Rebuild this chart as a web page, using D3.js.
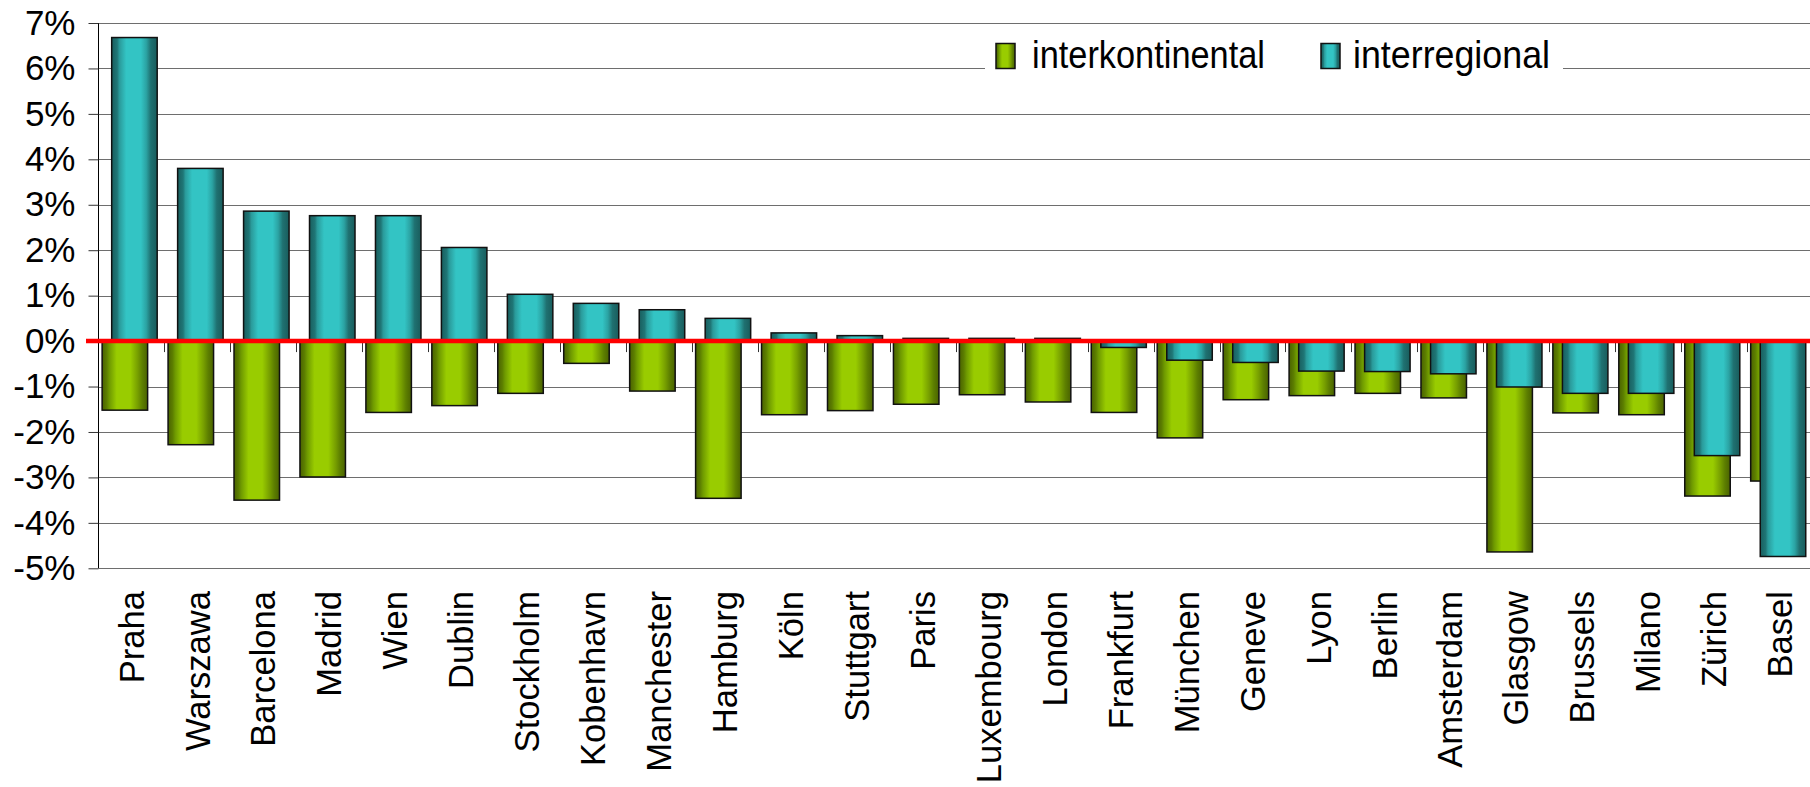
<!DOCTYPE html>
<html>
<head>
<meta charset="utf-8">
<script src="https://cdn.jsdelivr.net/npm/d3@7"></script>
<style>
  body { margin: 0; background: #fff; }
  text { font-family: "Liberation Sans", Arial, sans-serif; fill: #000; }
</style>
</head>
<body>
<div id="chart"></div>
<script>
var cities = ['Praha', 'Warszawa', 'Barcelona', 'Madrid', 'Wien', 'Dublin', 'Stockholm', 'Kobenhavn',
    'Manchester', 'Hamburg', 'Köln', 'Stuttgart', 'Paris', 'Luxembourg', 'London', 'Frankfurt',
    'München', 'Geneve', 'Lyon', 'Berlin', 'Amsterdam', 'Glasgow', 'Brussels', 'Milano', 'Zürich', 'Basel'];

// percent change
var interkontinental = [-1.52, -2.28, -3.50, -2.99, -1.57, -1.42, -1.15, -0.49, -1.10, -3.46, -1.62, -1.53, -1.39,
    -1.18, -1.34, -1.57, -2.13, -1.29, -1.20, -1.15, -1.25, -4.64, -1.58, -1.62, -3.41, -3.08];
var interregional = [6.68, 3.80, 2.86, 2.76, 2.76, 2.06, 1.03, 0.83, 0.69, 0.50, 0.18, 0.12, 0.06,
    0.06, 0.06, -0.14, -0.42, -0.47, -0.66, -0.67, -0.72, -1.01, -1.15, -1.15, -2.52, -4.74];

var yTicks = [-5, -4, -3, -2, -1, 0, 1, 2, 3, 4, 5, 6, 7];
var seriesNames = ['interkontinental', 'interregional'];

var svgWidth = 1810;
var svgHeight = 787;

var plot = {left: 98.5, right: 1813, top: 23, bottom: 568.3};

var svg = d3.select('#chart')
    .append('svg')
    .attr('width', svgWidth)
    .attr('height', svgHeight);

// gradients for the cylinder-ish bar look
var defs = svg.append('defs');
var gradients = {
    green: [['0%', '#4a6200'], ['10%', '#5c7e00'], ['16%', '#6f9a00'], ['32%', '#99cc00'], ['62%', '#99cc00'],
        ['78%', '#779f00'], ['88%', '#5d7f00'], ['100%', '#4a6200']],
    teal: [['0%', '#195e5e'], ['12%', '#1f7676'], ['17%', '#2a9a9a'], ['32%', '#33c4c4'], ['64%', '#33c4c4'],
        ['76%', '#2ba3a3'], ['86%', '#1f7171'], ['100%', '#195c5c']]
};
Object.keys(gradients).forEach(function(key) {
    var g = defs.append('linearGradient')
        .attr('id', 'grad-' + key)
        .attr('x1', '0%').attr('x2', '100%')
        .attr('y1', '0%').attr('y2', '0%');
    gradients[key].forEach(function(s) {
        g.append('stop').attr('offset', s[0]).attr('stop-color', s[1]);
    });
});

//Scales
var xScale = d3.scaleBand()
    .domain(cities)
    .range([plot.left, plot.right])
    .padding(0);

var yScale = d3.scaleLinear()
    .domain([-5, 7])
    .range([plot.bottom, plot.top]);

var bw = xScale.bandwidth();

// gridlines
svg.append('g')
    .selectAll('line')
    .data(yTicks)
    .enter()
    .append('line')
    .attr('x1', plot.left)
    .attr('x2', svgWidth)
    .attr('y1', d => Math.round(yScale(d)) + 0.5)
    .attr('y2', d => Math.round(yScale(d)) + 0.5)
    .attr('stroke', '#6e6e6e')
    .attr('stroke-width', 1.2);

// white legend background cuts the gridline
svg.append('rect')
    .attr('x', 985)
    .attr('y', 36)
    .attr('width', 578)
    .attr('height', 40)
    .attr('fill', '#fff');

//Axes
var yAxis = d3.axisLeft(yScale)
    .tickValues(yTicks)
    .tickSize(10)
    .tickPadding(13)
    .tickFormat(d => d + '%');

var yAxisG = svg.append('g')
    .attr('transform', `translate(${plot.left}, 0)`)
    .call(yAxis);

yAxisG.select('.domain')
    .attr('d', `M0,${plot.top}V${plot.bottom}`)
    .attr('stroke', '#000');
yAxisG.selectAll('.tick line').attr('stroke', '#333');
yAxisG.selectAll('.tick text')
    .style('font-size', '35px')
    .attr('fill', '#000');

// category ticks under the zero line
var zeroY = yScale(0);
svg.append('g')
    .selectAll('line')
    .data(cities.slice(1))
    .enter()
    .append('line')
    .attr('x1', d => Math.round(xScale(d)) + 0.5)
    .attr('x2', d => Math.round(xScale(d)) + 0.5)
    .attr('y1', zeroY)
    .attr('y2', zeroY + 11)
    .attr('stroke', '#333');

//Bars
function drawBars(values, offset, grad) {
    svg.append('g')
        .selectAll('rect')
        .data(values)
        .enter()
        .append('rect')
        .attr('x', (d, i) => xScale(cities[i]) + bw * offset)
        .attr('width', bw * 0.69)
        .attr('y', d => yScale(Math.max(0, d)))
        .attr('height', d => Math.abs(yScale(d) - yScale(0)))
        .attr('fill', 'url(#grad-' + grad + ')')
        .attr('stroke', '#111')
        .attr('stroke-width', 1.5);
}
drawBars(interkontinental, 0.055, 'green');
drawBars(interregional, 0.2, 'teal');

// red zero line
svg.append('line')
    .attr('x1', 86)
    .attr('x2', svgWidth)
    .attr('y1', zeroY)
    .attr('y2', zeroY)
    .attr('stroke', '#ff0000')
    .attr('stroke-width', 4.5);

// city labels
svg.append('g')
    .selectAll('text')
    .data(cities)
    .enter()
    .append('text')
    .attr('transform', d => `translate(${xScale(d) + bw / 2}, 591) rotate(-90)`)
    .attr('text-anchor', 'end')
    .attr('dy', '0.35em')
    .style('font-size', '34.6px')
    .text(d => d);

//Legend
var legendItems = [
    {name: seriesNames[0], grad: 'green', x: 996, textX: 1032, len: 233},
    {name: seriesNames[1], grad: 'teal', x: 1321, textX: 1353, len: 197}
];
var legend = svg.append('g');
legendItems.forEach(function(item) {
    legend.append('rect')
        .attr('x', item.x)
        .attr('y', 43.5)
        .attr('width', 19)
        .attr('height', 25)
        .attr('fill', 'url(#grad-' + item.grad + ')')
        .attr('stroke', '#111')
        .attr('stroke-width', 1.5);
    legend.append('text')
        .attr('x', item.textX)
        .attr('y', 68)
        .attr('textLength', item.len)
        .attr('lengthAdjust', 'spacingAndGlyphs')
        .style('font-size', '39px')
        .text(item.name);
});
</script>
</body>
</html>
